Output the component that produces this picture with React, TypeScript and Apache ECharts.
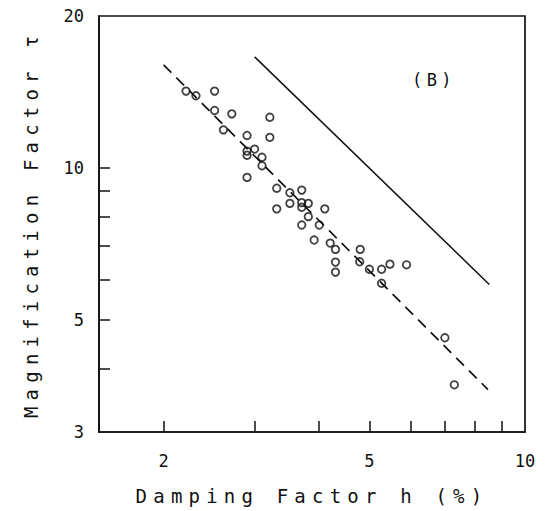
import React, { useEffect, useRef } from "react";
import * as echarts from "echarts";

// Measured points (h in %, tau)
const dampingH = [
  2.21, 2.31, 2.51, 2.51, 2.71, 2.61, 3.21, 2.9, 3.21, 2.9,
  2.9, 3.0, 3.1, 3.1, 2.9, 3.31, 3.51, 3.51, 3.7, 3.31,
  3.7, 3.7, 3.81, 3.81, 4.1, 3.7, 4.0, 3.91, 4.2, 4.3,
  4.3, 4.3, 4.8, 4.79, 5.0, 5.28, 5.48, 5.9, 5.28, 7.0,
  7.3,
];
const magnificationT = [
  14.2, 13.9, 14.2, 13.0, 12.8, 11.9, 12.6, 11.6, 11.5, 10.8,
  10.6, 10.9, 10.5, 10.1, 9.58, 9.12, 8.93, 8.51, 9.04, 8.3,
  8.54, 8.36, 8.51, 8.01, 8.3, 7.71, 7.71, 7.2, 7.1, 6.9,
  6.51, 6.22, 6.9, 6.52, 6.3, 6.3, 6.45, 6.43, 5.91, 4.61,
  3.72,
];
// Regression (dashed) and reference (solid) lines
const dashedFitH = [2.0, 8.48];
const dashedFitT = [16.0, 3.64];
const solidLineH = [3.0, 8.53];
const solidLineT = [16.6, 5.88];

const xTicks = [2, 3, 4, 5, 6, 7, 8, 9];
const xTickLabels = [2, 5, 10];
const yTicks = [4, 5, 6, 7, 8, 9, 10];
const yTickLabels = [3, 5, 10, 20];
const xRange = [1.5, 10];
const yRange = [3, 20];

const xName = "Damping Factor h (%)";
const yName = "Magnification Factor τ";
const panelLabel = "(B)";

const lg = Math.log10;
const toPairs = (xs: number[], ys: number[]) => xs.map((x, i) => [lg(x), lg(ys[i])]);

export default function App() {
  const ref = useRef<HTMLDivElement>(null);
  useEffect(() => {
    const el = ref.current!;
    const chart = echarts.init(el, null, { renderer: "svg" });
    const mono = "'DejaVu Sans Mono', monospace";
    const ink = "#111";
    const fmt = (v: number) => String(Math.round(Math.pow(10, v)));
    chart.setOption({
      animation: false,
      backgroundColor: "#fff",
      grid: {
        left: 99,
        right: 25,
        top: 16,
        bottom: 79,
        show: true,
        borderColor: ink,
        borderWidth: 1.7,
        backgroundColor: "transparent",
      },
      xAxis: {
        type: "value",
        min: lg(xRange[0]),
        max: lg(xRange[1]),
        name: xName,
        nameLocation: "middle",
        nameGap: 54,
        nameTextStyle: { fontFamily: mono, fontSize: 19, color: ink },
        axisLine: { show: true, lineStyle: { color: ink, width: 1.7 } },
        axisTick: {
          show: true,
          inside: true,
          length: 11,
          customValues: xTicks.map(lg),
          lineStyle: { color: ink, width: 1.5 },
        },
        axisLabel: {
          customValues: xTickLabels.map(lg),
          formatter: fmt,
          margin: 20,
          fontFamily: mono,
          fontSize: 17,
          color: ink,
        },
        splitLine: { show: false },
      },
      yAxis: {
        type: "value",
        min: lg(yRange[0]),
        max: lg(yRange[1]),
        name: yName,
        nameLocation: "middle",
        nameGap: 59,
        nameTextStyle: { fontFamily: mono, fontSize: 19, color: ink },
        axisLine: { show: true, lineStyle: { color: ink, width: 1.7 } },
        axisTick: {
          show: true,
          inside: true,
          length: 11,
          customValues: yTicks.map(lg),
          lineStyle: { color: ink, width: 1.5 },
        },
        axisLabel: {
          customValues: yTickLabels.map(lg),
          formatter: fmt,
          margin: 15,
          fontFamily: mono,
          fontSize: 17,
          color: ink,
        },
        splitLine: { show: false },
      },
      graphic: [
        {
          type: "text",
          x: 434,
          y: 80,
          style: {
            text: panelLabel,
            font: `17px ${mono}`,
            fill: ink,
            align: "center",
            verticalAlign: "middle",
          },
        },
      ],
      series: [
        {
          type: "line",
          data: toPairs(dashedFitH, dashedFitT),
          symbol: "none",
          lineStyle: { color: ink, width: 1.7, type: [11, 7] },
          z: 1,
        },
        {
          type: "line",
          data: toPairs(solidLineH, solidLineT),
          symbol: "none",
          lineStyle: { color: ink, width: 1.5, type: "solid" },
          z: 1,
        },
        {
          type: "scatter",
          data: toPairs(dampingH, magnificationT),
          symbol: "circle",
          symbolSize: 7.5,
          itemStyle: { color: "rgba(0,0,0,0)", borderColor: ink, borderWidth: 1.8 },
          z: 2,
        },
      ],
    });
    const applySpacing = () => {
      el.querySelectorAll("text").forEach((t) => {
        const s = t.textContent || "";
        if (s === xName || s === yName) t.setAttribute("letter-spacing", "6.2");
        else if (s === panelLabel) t.setAttribute("letter-spacing", "4.5");
      });
    };
    applySpacing();
    chart.on("finished", applySpacing);
    return () => {
      chart.dispose();
    };
  }, []);
  return (
    <div
      ref={ref}
      style={{ position: "fixed", left: 0, top: 0, width: 550, height: 511 }}
    />
  );
}
